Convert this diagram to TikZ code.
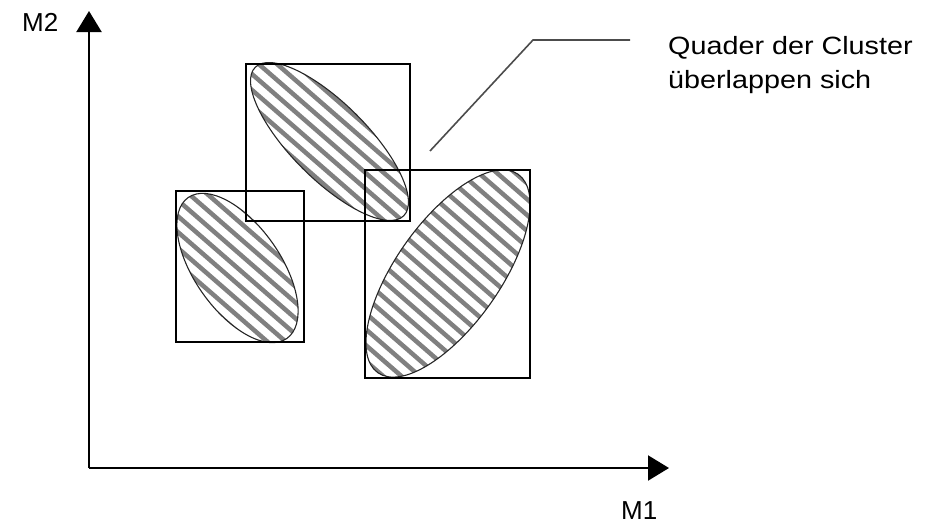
\documentclass[tikz,border=0pt]{standalone}
\usepackage{fontspec}
\setmainfont{Liberation Sans}
\newfontfamily\calloutfont{Liberation Sans}[FakeStretch=1.15]
\usetikzlibrary{arrows.meta}
\newcommand\clusterellipse[6]{% name, cx, cy, a, b, angle
  \begin{scope}
    \clip[rotate around={#6:(#2,#3)}] (#2,#3) ellipse [x radius=#4pt, y radius=#5pt];
    \begin{scope}[shift={(#2,#3)}, rotate=-41]
      \foreach \k in {-16,...,16} {\draw[stripe] (-220,\k*12) -- (220,\k*12);}
    \end{scope}
  \end{scope}
  \draw[clusterline, rotate around={#6:(#2,#3)}] (#2,#3) ellipse [x radius=#4pt, y radius=#5pt];
  \coordinate (#1) at (#2,#3);
}
\begin{document}
\begin{tikzpicture}[x=1pt,y=-1pt,
  axis/.style={line width=2.1pt, -{Triangle[length=21pt,width=25pt]}},
  quader/.style={draw, line width=2pt},
  clusterline/.style={draw=black!85, line width=1.1pt},
  stripe/.style={draw=black!50, line width=4.5pt},
  callout/.style={draw=black!70, line width=1.6pt},
  axlbl/.style={font=\fontsize{26}{30}\selectfont, inner sep=0pt, anchor=base west},
  lbl/.style={font=\calloutfont\fontsize{25}{30}\selectfont, inner sep=0pt, anchor=base west}]
\useasboundingbox (0,0) rectangle (942,525);

% cluster ellipses with hatching
\clusterellipse{e1}{237.5}{268}{86}{43}{-55}
\clusterellipse{e2}{329.5}{141.5}{105}{38}{-45}
\clusterellipse{e3}{448}{273.5}{121.5}{52}{54.7}

% bounding boxes (Quader)
\draw[quader] (176,191) rectangle (304,342);
\draw[quader] (246,64) rectangle (410,221);
\draw[quader] (365,170) rectangle (530,378);

% axes
\coordinate (O) at (89,468);
\coordinate (Ytip) at (89,11);
\coordinate (Xtip) at (669,468);
\draw[axis] (O) -- (Ytip);
\draw[axis] (O) -- (Xtip);
\node[axlbl] (m2) at (22,31) {M2};
\node[axlbl] (m1) at (621,519) {M1};

% callout
\coordinate (c1) at (430,151);
\coordinate (c2) at (533,40);
\coordinate (c3) at (630,40);
\draw[callout] (c1) -- (c2) -- (c3);
\node[lbl] (t1) at (668,54) {Quader der Cluster};
\node[lbl] (t2) at (668,88) {überlappen sich};
\end{tikzpicture}
\end{document}
